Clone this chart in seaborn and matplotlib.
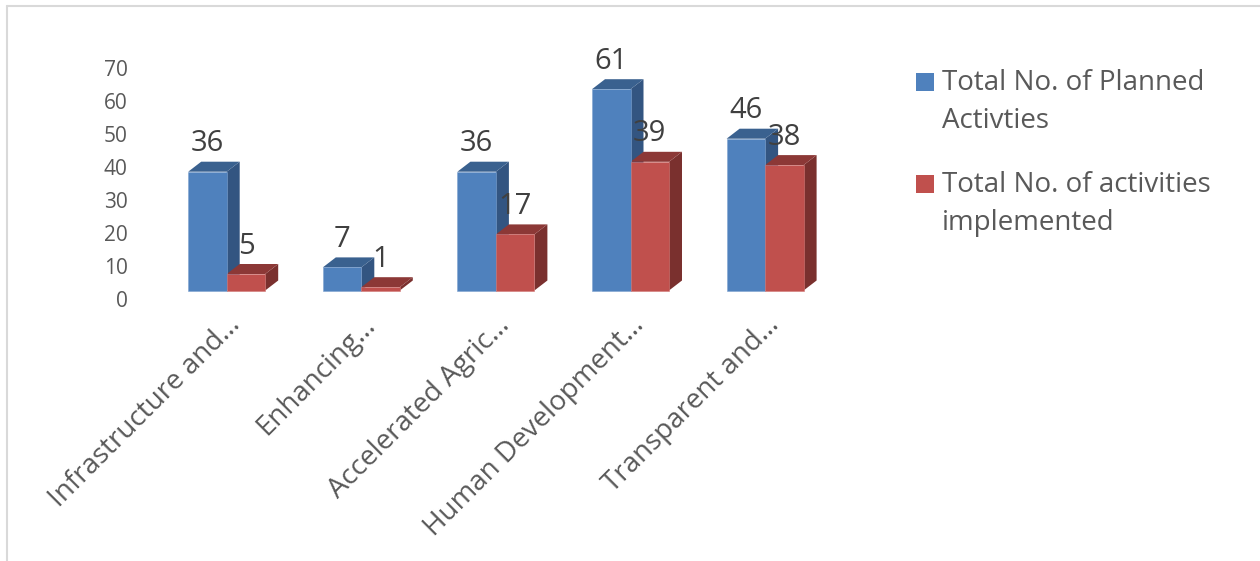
import matplotlib
matplotlib.use("Agg")
import matplotlib.pyplot as plt
from matplotlib.legend_handler import HandlerPatch
from matplotlib.lines import Line2D
from matplotlib.patches import Patch, Polygon, Rectangle
from matplotlib.transforms import ScaledTranslation
import pandas as pd
import seaborn as sns

categories = ["Infrastructure and…", "Enhancing…", "Accelerated Agric…",
              "Human Development…", "Transparent and…"]
planned = [36, 7, 36, 61, 46]
implemented = [5, 1, 17, 39, 38]
series_names = ["Total No. of Planned\nActivties",
                "Total No. of activities\nimplemented"]

FRONT = ["#4F81BD", "#C0504D"]
EDGE = ["#7FA3D0", "#D27A78"]
TOP = ["#3A618F", "#8C3836"]
SIDE = ["#335581", "#7A302E"]
TEXT_GREY = "#595959"
LABEL_DARK = "#404040"
BORDER = "#D9D9D9"

W, H, DPI = 1260, 561, 100
DEPTH_X, DEPTH_Y = 13, 10  # pseudo-3D extrusion, pixels

sns.set_theme(style="white")
plt.rcParams["font.family"] = ["Open Sans", "DejaVu Sans"]

table = pd.DataFrame({
    "category": categories * 2,
    "series": [series_names[0]] * 5 + [series_names[1]] * 5,
    "value": planned + implemented,
})

fig = plt.figure(figsize=(W / DPI, H / DPI), dpi=DPI)
left, right, bottom, top = 159.4, 832.4, 290.5, 59.5
ax = fig.add_axes([left / W, 1 - bottom / H, (right - left) / W, (bottom - top) / H])

sns.barplot(data=table, x="category", y="value", hue="series", palette=FRONT,
            width=0.572, gap=0, saturation=1, ax=ax, legend=False, errorbar=None)
ax.set_xlim(-0.5, 4.5)
ax.set_ylim(0, 70)
ax.set_xlabel("")
ax.set_ylabel("")
ax.set_yticks(range(0, 80, 10))
sns.despine(ax=ax, left=True, bottom=True)
ax.patch.set_alpha(0)

to_data = ax.transData.inverted()

for level, container in enumerate(ax.containers):
    for patch in container:
        # Side and cap faces are built in pixels from the bar's own corners
        x0, y0 = ax.transData.transform((patch.get_x(), 0))
        x1, y1 = ax.transData.transform((patch.get_x() + patch.get_width(), patch.get_height()))
        side = to_data.transform([(x1, y0), (x1 + DEPTH_X, y0 + DEPTH_Y),
                                  (x1 + DEPTH_X, y1 + DEPTH_Y), (x1, y1)])
        cap = to_data.transform([(x0, y1), (x1, y1),
                                 (x1 + DEPTH_X, y1 + DEPTH_Y), (x0 + DEPTH_X, y1 + DEPTH_Y)])
        ax.add_patch(Polygon(side, closed=True, fc=SIDE[level], ec="none",
                             zorder=2 + level, clip_on=False))
        ax.add_patch(Polygon(cap, closed=True, fc=TOP[level], ec="none",
                             zorder=2 + level, clip_on=False))
        patch.set_zorder(5)
        patch.set_clip_on(False)
        patch.set_edgecolor(EDGE[level])
        patch.set_linewidth(0.4)
        ax.annotate(f"{patch.get_height():.0f}",
                    (patch.get_x() + patch.get_width() / 2, patch.get_height()),
                    xytext=(0, 28 * 72 / DPI), textcoords="offset points",
                    ha="center", va="center", fontsize=21, color=LABEL_DARK,
                    zorder=8, annotation_clip=False)

ax.tick_params(axis="y", length=0, pad=23, labelsize=15, labelcolor=TEXT_GREY)
ax.tick_params(axis="x", length=0, pad=15, labelsize=20, labelcolor=TEXT_GREY)
for label in ax.get_yticklabels():
    label.set_transform(label.get_transform()
                        + ScaledTranslation(0, -8.5 / DPI, fig.dpi_scale_trans))
ax.set_xticks(range(len(categories)))
ax.set_xticklabels(categories, rotation=45, ha="right", rotation_mode="anchor")

LEGEND_SIZE = 20
font_px = LEGEND_SIZE * DPI / 72
SWATCH_LIFT_PT = 21 * 72 / DPI


def first_line_swatch(legend, orig_handle, xdescent, ydescent, width, height, fontsize):
    """Square swatch lifted from the last text line of a label to its first."""
    return Rectangle((-xdescent, -ydescent + SWATCH_LIFT_PT), width, height)


handles = [Patch(facecolor=color, edgecolor="none") for color in FRONT]
legend = fig.legend(handles, series_names, loc="upper left",
                    bbox_to_anchor=(916 / W, 1 - 69 / H), bbox_transform=fig.transFigure,
                    frameon=False, fontsize=LEGEND_SIZE, borderaxespad=0, borderpad=0,
                    handlelength=18 / font_px, handleheight=18 / font_px,
                    handletextpad=8 / font_px, labelspacing=1.27, labelcolor=TEXT_GREY,
                    handler_map={Patch: HandlerPatch(patch_func=first_line_swatch)})
for text in legend.get_texts():
    text.set_linespacing(1.5)

# Thin frame round the chart area
frame = dict(color=BORDER, linewidth=1.5, transform=fig.transFigure)
fig.add_artist(Line2D([7 / W, 7 / W], [0, 1 - 5.5 / H], **frame))
fig.add_artist(Line2D([7 / W, 1], [1 - 5.5 / H, 1 - 5.5 / H], **frame))

fig.savefig("out.png", dpi=DPI, facecolor="white")
